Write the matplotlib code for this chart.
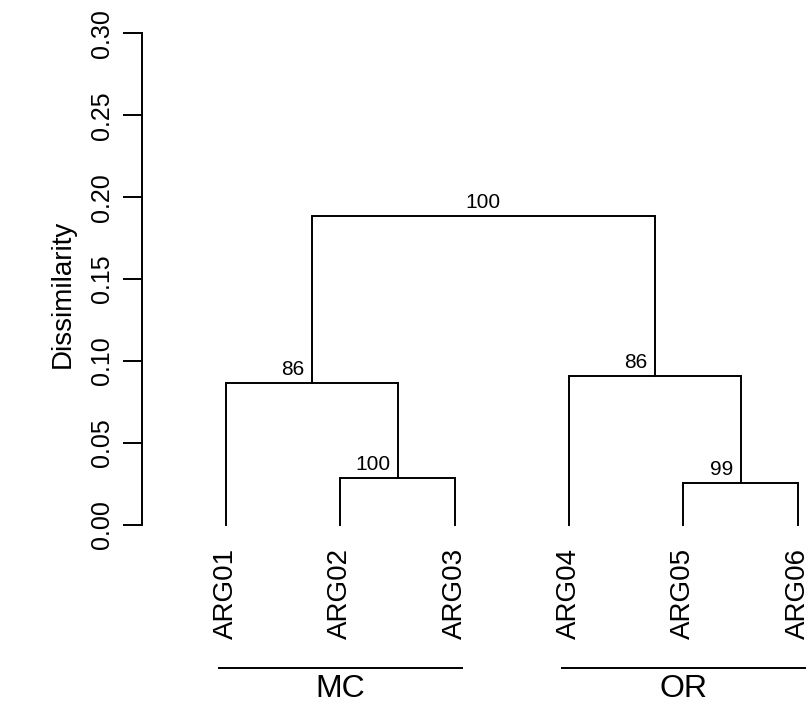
import matplotlib
matplotlib.use('Agg')
import matplotlib.pyplot as plt
import matplotlib.transforms as mtransforms

plt.rcParams['font.family'] = ['Liberation Sans', 'DejaVu Sans']

# leaves in plotting order
leaves = ['ARG01', 'ARG02', 'ARG03', 'ARG04', 'ARG05', 'ARG06']
# R style merge table: negative = leaf index (1-based), positive = earlier merge
merges = [(-2, -3), (-5, -6), (-1, 1), (-4, 2), (3, 4)]
heights = [0.0288, 0.0258, 0.0864, 0.0907, 0.1887]
support = [100, 99, 86, 86, 100]

groups = ['MC', 'OR']
group_first = ['ARG01', 'ARG04']
group_last = ['ARG03', 'ARG06']

yticks = [0.00, 0.05, 0.10, 0.15, 0.20, 0.25, 0.30]

fig = plt.figure(figsize=(8.11, 7.07), dpi=100)
ax = fig.add_axes([142 / 811, (707 - 525) / 707, (811 - 142) / 811, 491.7 / 707])

lw = 1.4
leaf_x = {name: i + 1 for i, name in enumerate(leaves)}


def node_pos(ref, node_xy):
    if ref < 0:
        return leaf_x[leaves[-ref - 1]], 0.0
    return node_xy[ref - 1]


node_xy = []
for k, (a, b) in enumerate(merges):
    xa, ya = node_pos(a, node_xy)
    xb, yb = node_pos(b, node_xy)
    h = heights[k]
    ax.plot([xa, xa, xb, xb], [ya, h, h, yb], color='black', lw=lw,
            solid_joinstyle='miter', clip_on=False)
    xm = (xa + xb) / 2
    node_xy.append((xm, h))

for k, (xm, h) in enumerate(node_xy):
    if k == len(node_xy) - 1:
        ax.annotate(str(support[k]), (xm, h), xytext=(0, 3), textcoords='offset points',
                    ha='center', va='bottom', fontsize=15)
    else:
        ax.annotate(str(support[k]), (xm, h), xytext=(-5, 3), textcoords='offset points',
                    ha='right', va='bottom', fontsize=15)

ax.set_xlim(0.265, 6.116)
ax.set_ylim(0, 0.30)

ax.set_xticks([leaf_x[n] for n in leaves])
ax.set_xticklabels(leaves, rotation=90, fontsize=20)
ax.tick_params(axis='x', length=0, pad=16.5)

ax.set_yticks(yticks)
ax.set_yticklabels(['%.2f' % v for v in yticks], rotation=90, va='center', fontsize=18)
ax.tick_params(axis='y', length=14, width=lw, pad=6)

for s in ['top', 'right', 'bottom']:
    ax.spines[s].set_visible(False)
ax.spines['left'].set_linewidth(lw)
ax.spines['left'].set_bounds(0, 0.30)

ax.set_ylabel('Dissimilarity', fontsize=20)
ax.yaxis.set_label_coords(-0.099, 0.47)

trans = mtransforms.blended_transform_factory(ax.transData, ax.transAxes)
for g, f, l in zip(groups, group_first, group_last):
    x0 = leaf_x[f]
    x1 = leaf_x[l]
    ax.plot([x0 - 0.06, x1 + 0.06], [-0.291, -0.291], color='black', lw=lw,
            transform=trans, clip_on=False)
    ax.text((x0 + x1) / 2, -0.303, g, transform=trans, ha='center', va='top', fontsize=23)

fig.savefig('out.png', dpi=100)
